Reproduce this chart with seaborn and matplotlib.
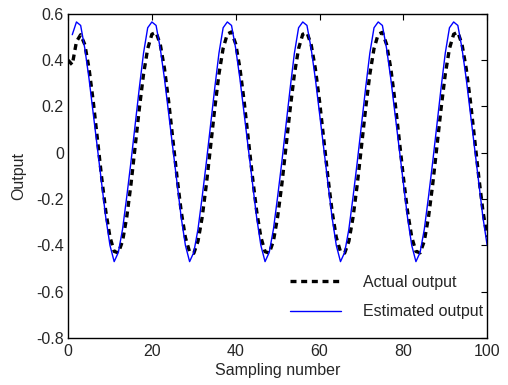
import numpy as np
import pandas as pd
import matplotlib
matplotlib.use("Agg")
import matplotlib.pyplot as plt
import seaborn as sns

# Sampling index for each series
x_actual = list(range(0, 101))
x_est = list(range(1, 101))

# Actual output (black dashed)
actual = [0.40, 0.38, 0.48, 0.51, 0.467, 0.364, 0.223, 0.060, -0.105, -0.253,
          -0.364, -0.426, -0.432, -0.381, -0.278, -0.137, 0.026, 0.191, 0.339, 0.450,
          0.512, 0.520, 0.468, 0.364, 0.222, 0.058, -0.106, -0.254, -0.366, -0.428,
          -0.434, -0.382, -0.278, -0.136, 0.027, 0.192, 0.340, 0.451, 0.513, 0.522,
          0.470, 0.366, 0.224, 0.060, -0.104, -0.252, -0.364, -0.427, -0.433, -0.381,
          -0.277, -0.137, 0.026, 0.191, 0.339, 0.450, 0.512, 0.519, 0.467, 0.364,
          0.223, 0.060, -0.105, -0.253, -0.365, -0.427, -0.433, -0.382, -0.278, -0.137,
          0.026, 0.191, 0.339, 0.450, 0.512, 0.520, 0.468, 0.365, 0.223, 0.060,
          -0.105, -0.253, -0.364, -0.426, -0.432, -0.381, -0.278, -0.137, 0.026, 0.191,
          0.339, 0.450, 0.512, 0.521, 0.468, 0.364, 0.223, 0.060, -0.105, -0.253,
          -0.364]

# Estimated output (blue solid)
estimated = [0.51, 0.565, 0.55, 0.45, 0.32, 0.17, 0.02, -0.13, -0.28, -0.40,
             -0.47, -0.43, -0.33, -0.19, -0.04, 0.12, 0.28, 0.43, 0.54, 0.565,
             0.55, 0.45, 0.32, 0.17, 0.02, -0.13, -0.28, -0.40, -0.47, -0.43,
             -0.33, -0.19, -0.04, 0.12, 0.28, 0.43, 0.54, 0.565, 0.55, 0.45,
             0.32, 0.17, 0.02, -0.13, -0.28, -0.40, -0.47, -0.43, -0.33, -0.19,
             -0.04, 0.12, 0.28, 0.43, 0.54, 0.565, 0.55, 0.45, 0.32, 0.17,
             0.02, -0.13, -0.28, -0.40, -0.47, -0.43, -0.33, -0.19, -0.04, 0.12,
             0.28, 0.43, 0.54, 0.565, 0.55, 0.45, 0.32, 0.17, 0.02, -0.13,
             -0.28, -0.40, -0.47, -0.43, -0.33, -0.19, -0.04, 0.12, 0.28, 0.43,
             0.54, 0.565, 0.55, 0.45, 0.32, 0.17, 0.02, -0.13, -0.28, -0.40]

x_ticks = [0, 20, 40, 60, 80, 100]
y_ticks = [-0.8, -0.6, -0.4, -0.2, 0, 0.2, 0.4, 0.6]

sns.set_style("white")
plt.rcParams['font.family'] = ['Liberation Sans', 'DejaVu Sans']
plt.rcParams['axes.unicode_minus'] = False
plt.rcParams['xtick.direction'] = 'in'
plt.rcParams['ytick.direction'] = 'in'

fig = plt.figure(figsize=(5.08, 3.85), dpi=100)
ax = fig.add_axes([0.134, 0.122, 0.825, 0.842])

sns.lineplot(x=x_actual, y=actual, ax=ax, color='black', linestyle=(0, (1.8, 1.4)),
             linewidth=2.4, label='Actual output')
sns.lineplot(x=x_est, y=estimated, ax=ax, color='#0000ff', linewidth=1.0,
             label='Estimated output')

ax.set_xlim(0, 100)
ax.set_ylim(-0.8, 0.6)
ax.set_xticks(x_ticks)
ax.set_yticks(y_ticks)
ax.set_xticklabels([str(t) for t in x_ticks])
ax.set_yticklabels(['0' if t == 0 else f'{t:g}' for t in y_ticks])
ax.tick_params(axis='both', labelsize=11.5, length=4, width=0.8,
               top=True, right=True, color='black')
ax.tick_params(axis='x', pad=4)
ax.tick_params(axis='y', pad=3)
for s in ax.spines.values():
    s.set_color('black')
    s.set_linewidth(1.0)

ax.set_xlabel('Sampling number', fontsize=11.5, labelpad=3)
ax.set_ylabel('Output', fontsize=11.5, labelpad=7)

ax.legend(loc='lower right', bbox_to_anchor=(1.0, 0.045), fontsize=11.5,
          handlelength=3.2, labelspacing=0.9, frameon=False,
          borderaxespad=0.05, borderpad=0.2, handletextpad=1.4)

fig.savefig('out.png', dpi=100)
